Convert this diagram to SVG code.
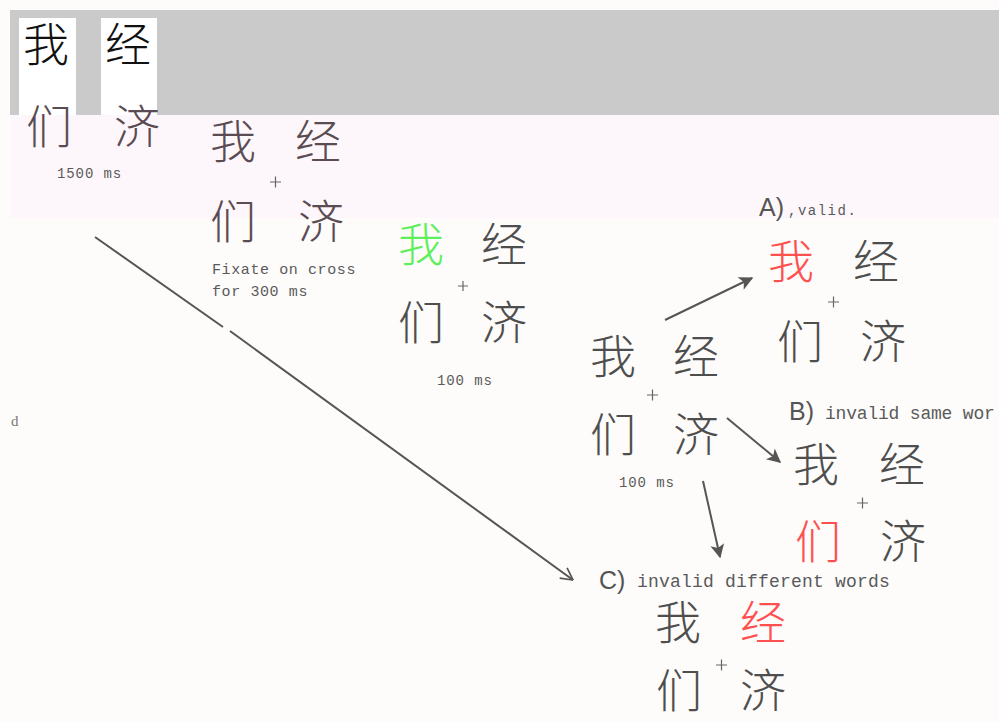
<svg xmlns="http://www.w3.org/2000/svg" width="999" height="722" viewBox="0 0 999 722">
<style>
.cj{font-family:"Noto Sans CJK SC","Noto Sans",sans-serif;font-size:46px;font-weight:300;fill:#4e4e4e}
.br{fill:#5b4b53}
.bk{fill:#111}
.red{fill:#ff5050}
.grn{fill:#5ef05a}
.mono{font-family:"Liberation Mono",monospace;fill:#5a5a5a}
.sm{font-size:14px;letter-spacing:0.9px}
.md{font-size:15px;letter-spacing:0.6px}
.lg{font-size:18px;letter-spacing:0.2px}
.lab{font-family:"Liberation Sans",sans-serif;font-size:25px;fill:#555}
.plus{stroke:#666;stroke-width:1.2}
.con{stroke:#555;stroke-width:2;fill:none}
</style>
<defs>
<marker id="ah" viewBox="0 0 10 10" refX="9" refY="5" markerWidth="9" markerHeight="7" orient="auto" markerUnits="strokeWidth">
<path d="M0,0 L10,5 L0,10 L2.5,5 Z" fill="#555"/>
</marker>
<marker id="ao" viewBox="0 0 10 10" refX="9.5" refY="5" markerWidth="7" markerHeight="7" orient="auto" markerUnits="strokeWidth">
<path d="M1,0.5 L9.5,5 L1,9.5" fill="none" stroke="#555" stroke-width="1.2"/>
</marker>
</defs>
<rect x="0" y="0" width="999" height="722" fill="#fdfcfa"/>
<rect x="10" y="10" width="989" height="105" fill="#cacaca"/>
<rect x="10" y="115" width="989" height="103" fill="#fdf7fb"/>
<rect x="19" y="18" width="57" height="97" fill="#ffffff"/>
<rect x="101" y="18" width="56" height="97" fill="#ffffff"/>

<g id="frame1">
<text class="cj bk" x="23" y="61">我</text>
<text class="cj bk" x="105" y="61">经</text>
<text class="cj br" x="26" y="143">们</text>
<text class="cj br" x="114" y="143">济</text>
<text class="mono sm" x="57" y="178">1500 ms</text>
</g>

<g id="frame2">
<text class="cj br" x="210" y="158">我</text>
<text class="cj br" x="295" y="158">经</text>
<path class="plus" d="M270,182 H281 M275.5,176.5 V187.5"/>
<text class="cj br" x="210" y="238">们</text>
<text class="cj br" x="298" y="238">济</text>
<text class="mono md" x="212" y="274">Fixate on cross</text>
<text class="mono md" x="212" y="296">for 300 ms</text>
</g>

<g id="frame3">
<text class="cj grn" x="398" y="261">我</text>
<text class="cj" x="481" y="261">经</text>
<path class="plus" d="M458,286 H468 M463,281 V291"/>
<text class="cj" x="398" y="339">们</text>
<text class="cj" x="481" y="339">济</text>
<text class="mono sm" x="437" y="385">100 ms</text>
</g>

<g id="frame4">
<text class="cj" x="590" y="373">我</text>
<text class="cj" x="673" y="373">经</text>
<path class="plus" d="M647,395 H658 M652.5,389.5 V400.5"/>
<text class="cj" x="590" y="451">们</text>
<text class="cj" x="673" y="451">济</text>
<text class="mono sm" x="619" y="487">100 ms</text>
</g>

<g id="frameA">
<text class="lab" x="759" y="216">A)</text>
<text class="mono sm" x="788" y="215" style="letter-spacing:1.5px">,valid.</text>
<text class="cj red" x="768" y="278">我</text>
<text class="cj" x="853" y="278">经</text>
<path class="plus" d="M828,302 H839 M833.5,296.5 V307.5"/>
<text class="cj" x="777" y="358">们</text>
<text class="cj" x="860" y="358">济</text>
</g>

<g id="frameB">
<text class="lab" x="789" y="420">B)</text>
<text class="mono lg" x="825" y="419" style="letter-spacing:-0.2px">invalid same wor</text>
<text class="cj" x="793" y="481">我</text>
<text class="cj" x="879" y="481">经</text>
<path class="plus" d="M857,503 H868 M862.5,497.5 V508.5"/>
<text class="cj red" x="795" y="558">们</text>
<text class="cj" x="880" y="558">济</text>
</g>

<g id="frameC">
<text class="lab" x="599" y="589">C)</text>
<text class="mono lg" x="637" y="587">invalid different words</text>
<text class="cj" x="655" y="639">我</text>
<text class="cj red" x="740" y="639">经</text>
<path class="plus" d="M716,665 H727 M721.5,659.5 V670.5"/>
<text class="cj" x="656" y="707">们</text>
<text class="cj" x="740" y="707">济</text>
</g>

<text x="11" y="426" style="font-family:'Liberation Serif',serif;font-size:15px;fill:#777">d</text>

<g id="connectors">
<path class="con" d="M95,237 L223,327"/>
<path class="con" d="M230,331 L573,580" marker-end="url(#ao)"/>
<path class="con" d="M665,320 L752,278" marker-end="url(#ah)"/>
<path class="con" d="M727,418 L780,462" marker-end="url(#ah)"/>
<path class="con" d="M703,481 L720,557" marker-end="url(#ah)"/>
</g>
</svg>
